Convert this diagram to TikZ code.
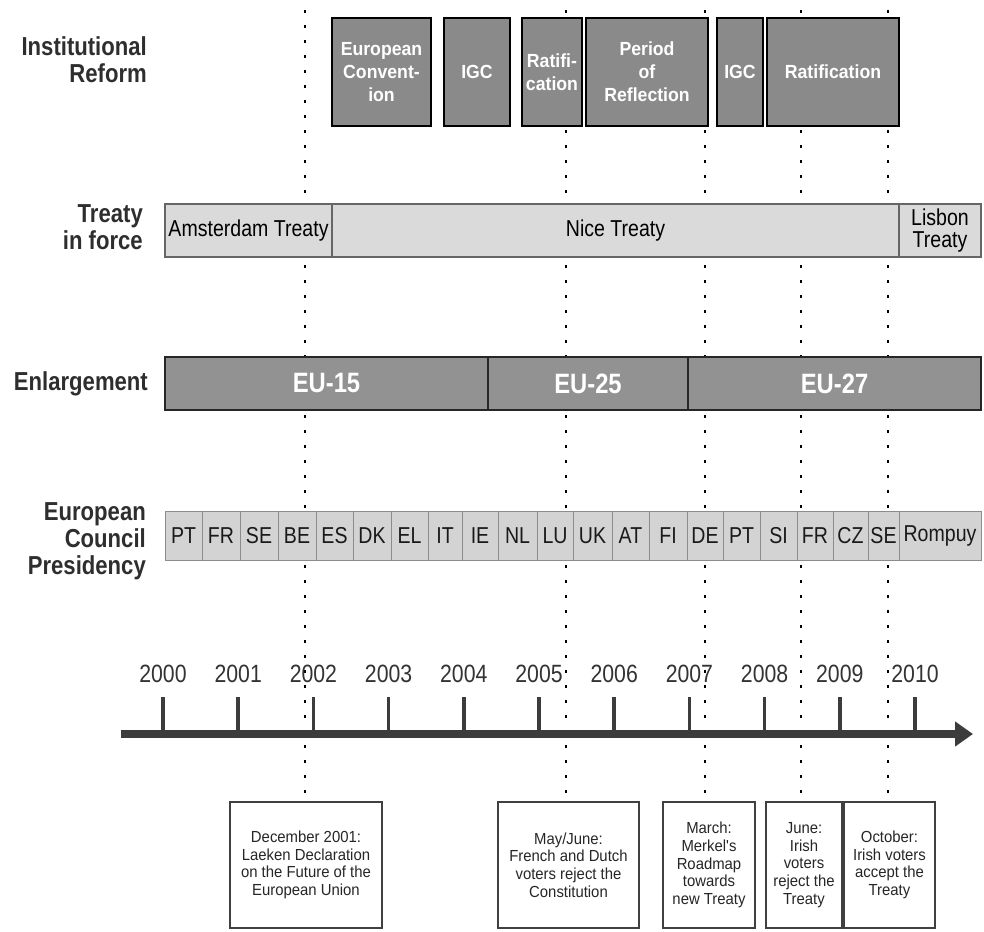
\documentclass[tikz,border=0pt]{standalone}
\usepackage{fontspec}
\setmainfont{Liberation Sans}
\newfontfamily\mycond[FakeStretch=0.85]{Liberation Sans}
\newfontfamily\mysemi[FakeStretch=0.93]{Liberation Sans}
\usetikzlibrary{arrows.meta}
\definecolor{topc}{HTML}{8A8A8A}
\definecolor{enlc}{HTML}{929292}
\definecolor{trc}{HTML}{DADADA}
\definecolor{presc}{HTML}{D3D3D3}
\definecolor{labc}{HTML}{2E2E2E}
\definecolor{axc}{HTML}{3C3C3C}
\tikzset{
  lab/.style={anchor=east, align=right, inner sep=0, text=labc,
    font=\mycond\bfseries\fontsize{26}{27}\selectfont},
  topbox/.style={draw=black, line width=1.5pt, fill=topc, text=white, align=center,
    inner sep=0, outer sep=0, minimum height=108pt,
    font=\mysemi\bfseries\fontsize{19}{23}\selectfont},
  trbox/.style={draw=black!60, line width=1.2pt, fill=trc, text=black, align=center,
    inner sep=0, outer sep=0, minimum height=53pt,
    font=\mycond\fontsize{23}{22}\selectfont},
  enlbox/.style={draw=black!85, line width=1.5pt, fill=enlc, text=white,
    inner sep=0, outer sep=0, minimum height=53pt,
    font=\mycond\bfseries\fontsize{28}{30}\selectfont},
  prescell/.style={draw=black!45, line width=0.8pt, fill=presc, text=black!90,
    inner sep=0, outer sep=0, minimum height=49pt,
    font=\mycond\fontsize{23}{24}\selectfont},
  evbox/.style={draw=black!75, line width=1.3pt, fill=white, text=black!85, align=center,
    inner sep=0, outer sep=0, minimum height=126pt,
    font=\mysemi\fontsize{16}{17.7}\selectfont},
  yearlab/.style={text=black!80, inner sep=0, font=\mycond\fontsize{25}{26}\selectfont},
  dotline/.style={black, line width=2.6pt, dash pattern=on 2.6pt off 12.4pt},
  tickline/.style={axc, line width=3.5pt},
  axisline/.style={axc, line width=8pt, -{Triangle[length=18pt,width=24pt]}}
}
\begin{document}
\begin{tikzpicture}[x=1pt,y=-1pt]
\useasboundingbox[fill=white] (0,0) rectangle (984,931);

% bottom event boxes
\node[evbox, minimum width=152pt] (b1) at (306,865) {December 2001:\\Laeken Declaration\\on the Future of the\\European Union};
\node[evbox, minimum width=141pt] (b2) at (568.5,865) {May/June:\\French and Dutch\\voters reject the\\Constitution};
\node[evbox, minimum width=92pt] (b3) at (709,865) {March:\\Merkel's\\Roadmap\\towards\\new Treaty};
\node[evbox, minimum width=76pt] (b4) at (804,865) {June:\\Irish\\voters\\reject the\\Treaty};
\node[evbox, minimum width=91pt] (b5) at (889.5,865) {October:\\Irish voters\\accept the\\Treaty};

% dotted guide lines (behind bars)
\coordinate (d1) at (305,10);
\coordinate (d2) at (566,10);
\coordinate (d3) at (705,10);
\coordinate (d4) at (801,10);
\coordinate (d5) at (888,10);
\draw[dotline] (d1) -- (d1 |- b1.north);
\draw[dotline] (d2) -- (d2 |- b2.north);
\draw[dotline] (d3) -- (d3 |- b3.north);
\draw[dotline] (d4) -- (d4 |- b4.north);
\draw[dotline] (d5) -- (d5 |- b5.north);

% row labels
\node[lab] (l1) at (147,60) {Institutional\\Reform};
\node[lab] (l2) at (143,227) {Treaty\\in force};
\node[lab] (l3) at (148,384) {Enlargement};
\node[lab] (l4) at (146,541) {European\\Council\\Presidency};

% institutional reform
\node[topbox, minimum width=99pt] (t1) at (381.5,72) {European\\Convent-\\ion};
\node[topbox, minimum width=66pt] (t2) at (477,72) {IGC};
\node[topbox, minimum width=60pt] (t3) at (552,72) {Ratifi-\\cation};
\node[topbox, minimum width=122pt] (t4) at (647,72) {Period\\of\\Reflection};
\node[topbox, minimum width=46pt] (t5) at (740,72) {IGC};
\node[topbox, minimum width=132pt] (t6) at (833,72) {Ratification};

% treaty in force
\node[trbox, minimum width=167pt] (r1) at (248.5,230.5) {Amsterdam Treaty};
\node[trbox, minimum width=567pt] (r2) at (615.5,230.5) {Nice Treaty};
\node[trbox, minimum width=82pt] (r3) at (940,230.5) {Lisbon\\Treaty};

% enlargement
\node[enlbox, minimum width=323pt] (e1) at (326.5,383.5) {EU-15};
\node[enlbox, minimum width=200pt] (e2) at (588,383.5) {EU-25};
\node[enlbox, minimum width=293pt] (e3) at (834.5,383.5) {EU-27};

% presidency
\foreach \a/\b/\t [count=\i] in {165/202/PT,202/240/FR,240/278/SE,278/316/BE,316/353/ES,353/391/DK,391/428/EL,428/462/IT,462/498/IE,498/537/NL,537/573/LU,573/612/UK,612/649/AT,649/687/FI,687/723/DE,723/760/PT,760/797/SI,797/833/FR,833/868/CZ,868/899/SE,899/981/Rompuy}
  \node[prescell, minimum width={\b-\a}] (p\i) at ({(\a+\b)/2},535.5) {\t};

% time axis
\coordinate (axL) at (121,734);
\coordinate (axR) at (973,734);
\draw[axisline] (axL) -- (axR);
\foreach \k in {0,...,10}{
  \pgfmathtruncatemacro\yr{2000+\k}
  \node[yearlab] (y\k) at ({163+75.2*\k},674) {\yr};
  \draw[tickline] ({163+75.2*\k},697) -- ({163+75.2*\k},733);
}
\end{tikzpicture}
\end{document}
